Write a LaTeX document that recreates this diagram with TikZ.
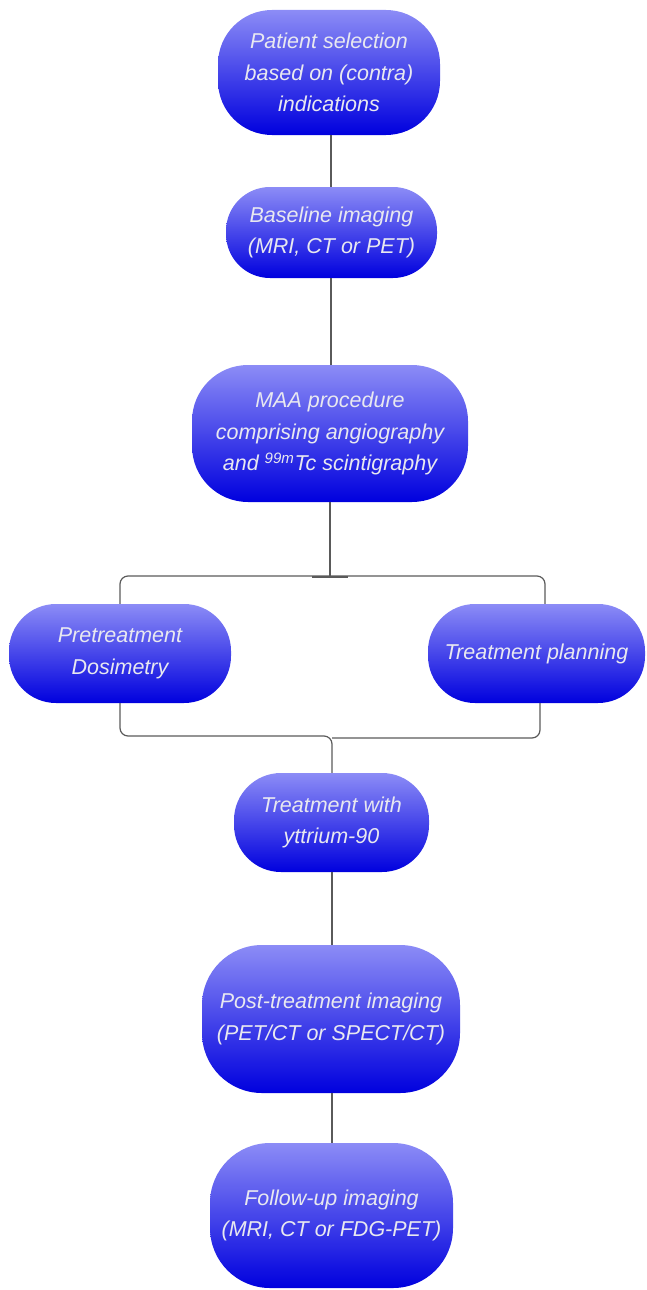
\documentclass[tikz,border=0pt]{standalone}
\usepackage{fontspec}
\setmainfont{Liberation Sans}
\usetikzlibrary{calc}
\definecolor{boxtop}{HTML}{8C8CF6}
\definecolor{boxbot}{HTML}{0000DE}
\definecolor{txt}{HTML}{E8E8F0}
\definecolor{ln}{HTML}{5A5A5A}
\tikzset{
  flowbox/.style={rectangle, rounded corners=44pt, top color=boxtop, bottom color=boxbot,
    draw=none, inner sep=0pt, align=center, text=txt,
    font=\fontsize{21.5}{31.5}\selectfont\itshape},
  conn/.style={draw=ln, line width=1.2pt},
}
\begin{document}
\begin{tikzpicture}[x=1pt,y=-1pt]
\useasboundingbox (0,0) rectangle (646,1290);
\node[flowbox, rounded corners=54pt, minimum width=222pt, minimum height=125pt] (b1) at (329,72.5) {Patient selection\\based on (contra)\\indications};
\node[flowbox, minimum width=211pt, minimum height=91pt] (b2) at (331.5,232.5) {Baseline imaging\\(MRI, CT or PET)};
\node[flowbox, rounded corners=56pt, minimum width=276pt, minimum height=137pt] (b3) at (330,433.5) {MAA procedure\\comprising angiography\\and \textsuperscript{99m}Tc scintigraphy};
\node[flowbox, rounded corners=47pt, minimum width=222pt, minimum height=99pt] (b4) at (120,653.5) {Pretreatment\\Dosimetry};
\node[flowbox, rounded corners=47pt, minimum width=217pt, minimum height=99pt] (b5) at (536.5,653.5) {Treatment planning};
\node[flowbox, rounded corners=47pt, minimum width=195pt, minimum height=99pt] (b6) at (331.5,822.5) {Treatment with\\yttrium-90};
\node[flowbox, rounded corners=60pt, minimum width=258pt, minimum height=148pt] (b7) at (331,1019) {Post-treatment imaging\\(PET/CT or SPECT/CT)};
\node[flowbox, rounded corners=60pt, minimum width=243pt, minimum height=145pt] (b8) at (331.5,1215.5) {Follow-up imaging\\(MRI, CT or FDG-PET)};

\coordinate (split) at (330,576);
\coordinate (mergeL) at (332,736);
\coordinate (mergeR) at (332,738);

\draw[conn] (b1.south -| 331,0) -- (b2.north -| 331,0);
\draw[conn] (b2.south -| 331,0) -- (b3.north -| 331,0);
\draw[conn] (b3.south) -- (split);
\draw[conn, rounded corners=8pt] (b4.north) -- (b4.north |- split) -- ($(b5.north |- split)+(8.5,0)$) -- ($(b5.north)+(8.5,0)$);
\draw[draw=ln, line width=1.8pt] ($(split)+(-18,1)$) -- ($(split)+(18,1)$);
\draw[conn, rounded corners=8pt] (b4.south) -- (b4.south |- mergeL) -- (mergeL) -- (b6.north -| mergeL);
\draw[conn, rounded corners=8pt] ($(b5.south)+(3.5,0)$) -- ($(b5.south |- mergeR)+(3.5,0)$) -- (mergeR);
\draw[conn] (b6.south -| 332,0) -- (b7.north -| 332,0);
\draw[conn] (b7.south -| 332,0) -- (b8.north -| 332,0);
\end{tikzpicture}
\end{document}
